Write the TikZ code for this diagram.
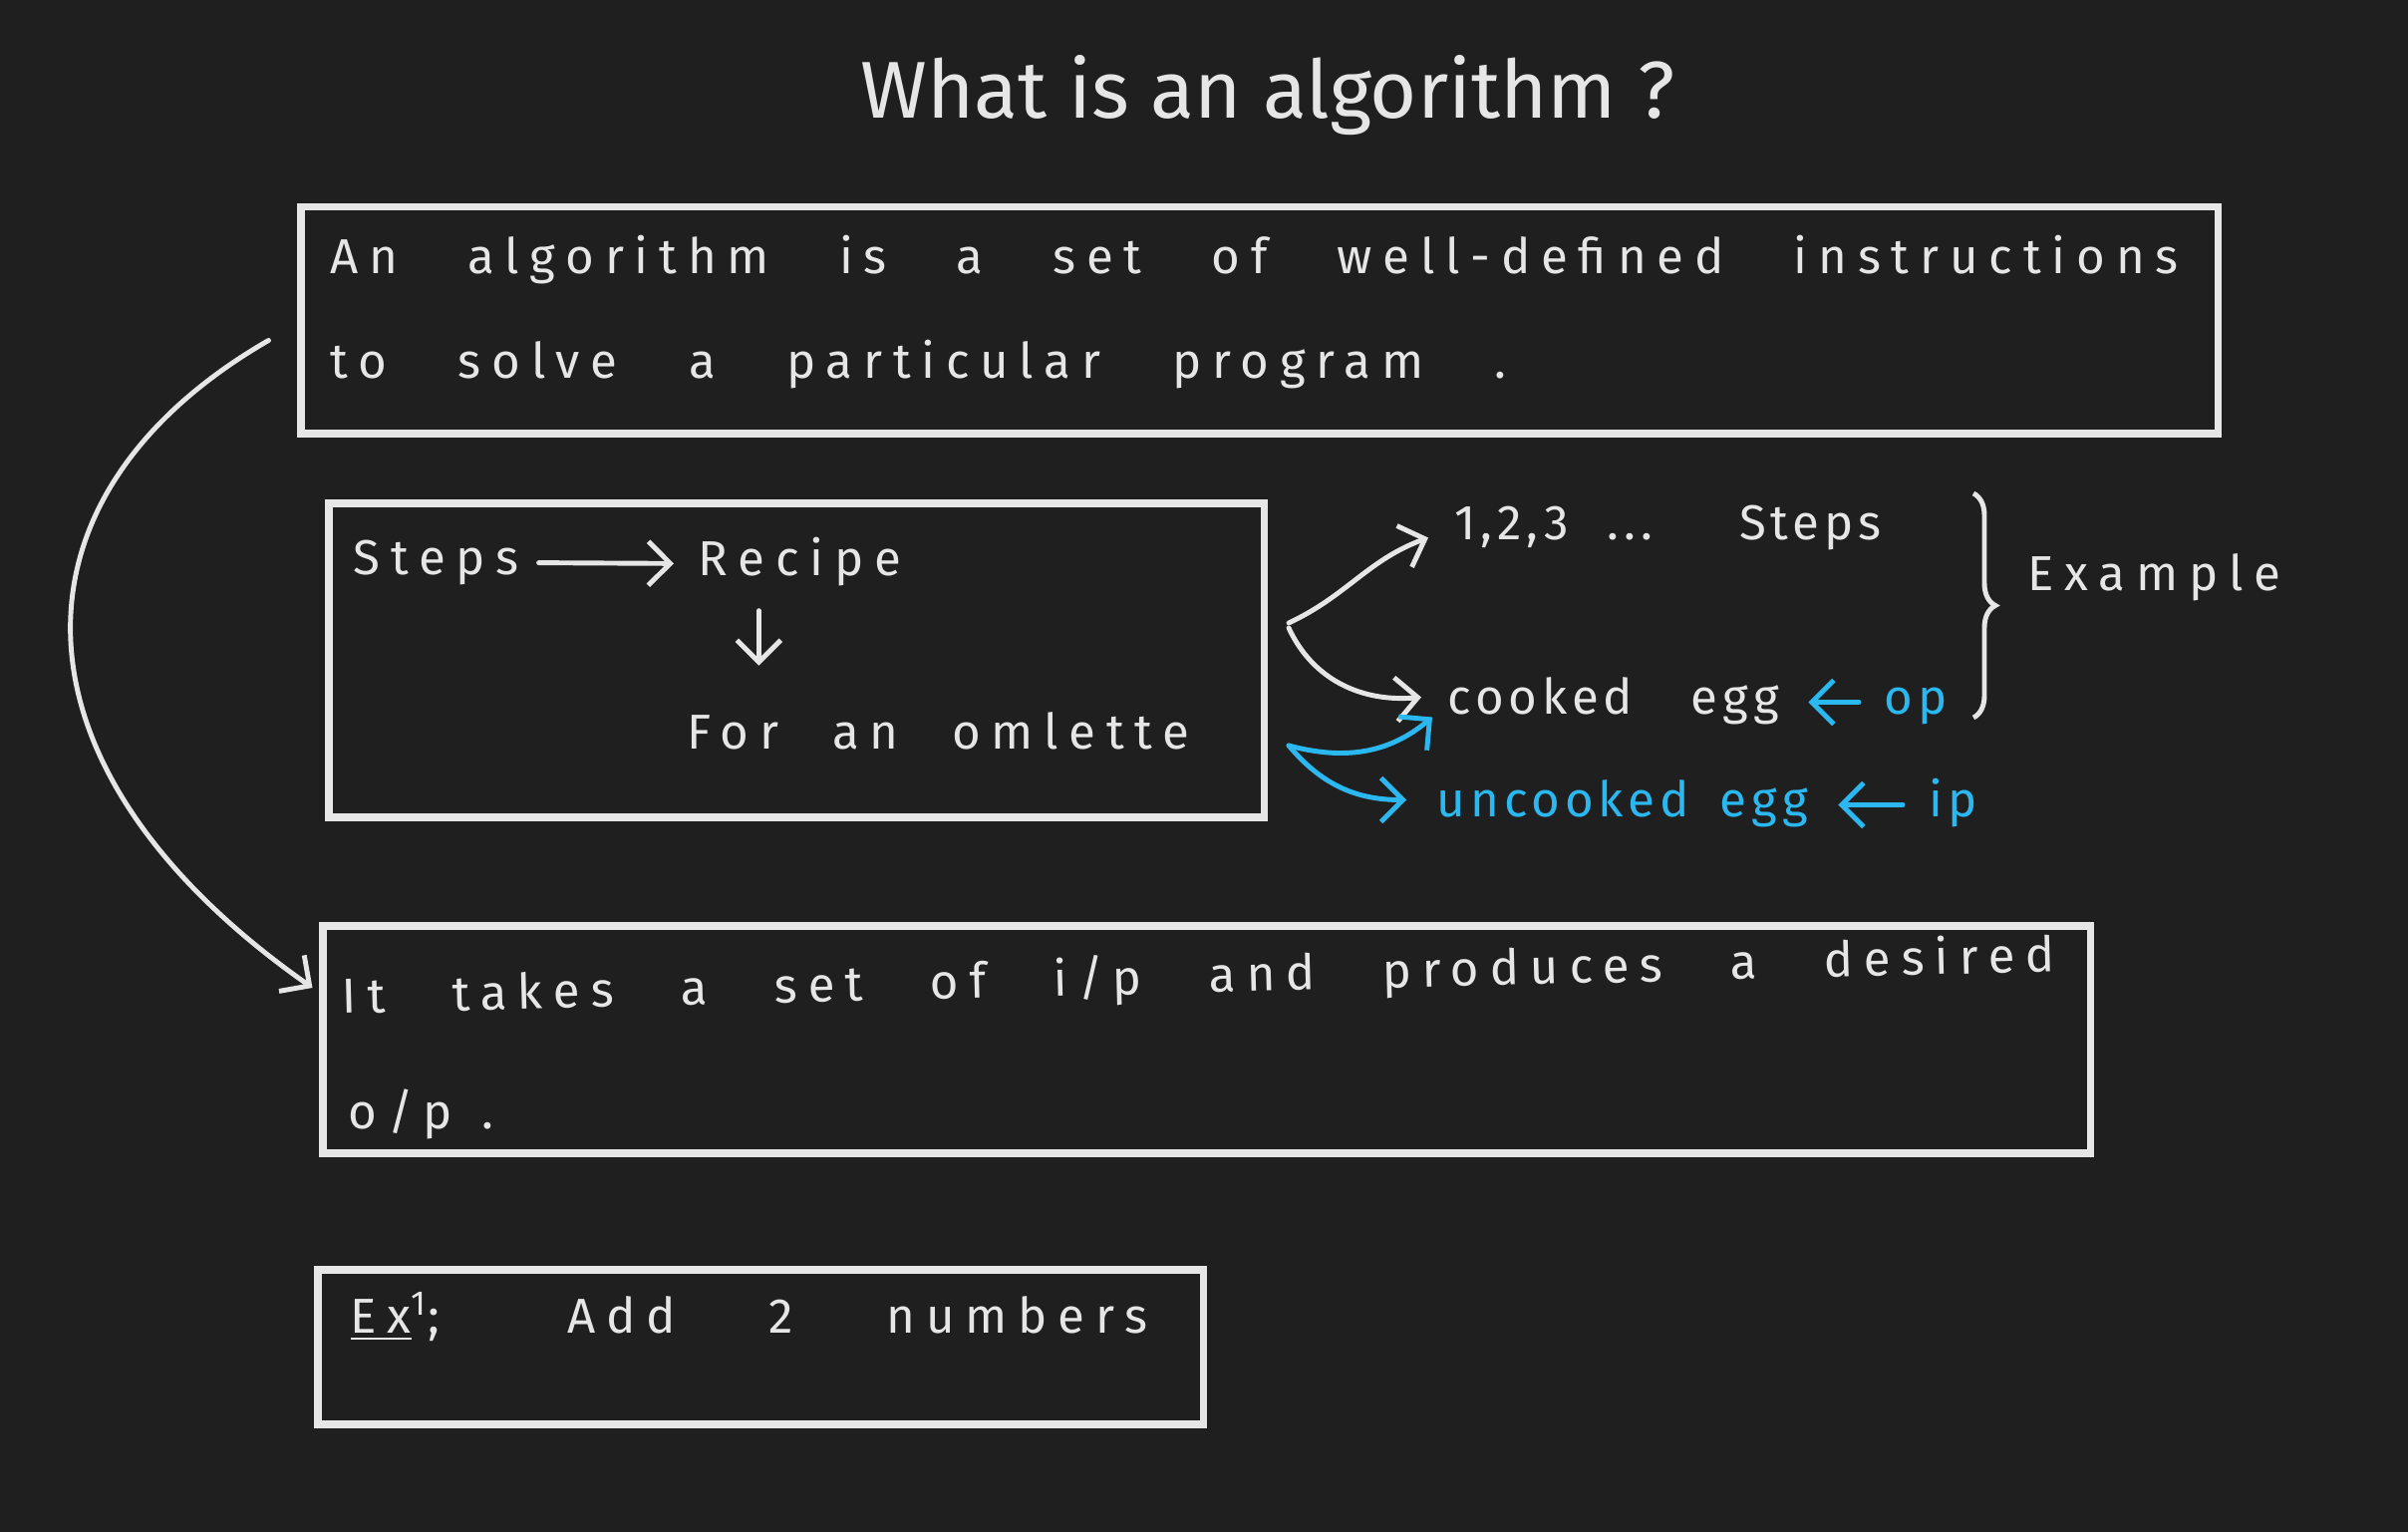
\documentclass[tikz,border=0pt]{standalone}
\usepackage{fontspec}
\setmainfont{Fira Sans}
\newfontfamily\handfont{Fira Sans}[LetterSpace=22]
\newfontfamily\notefont{Fira Sans}[LetterSpace=10]
\usepackage{xcolor}
\usetikzlibrary{positioning,arrows.meta,decorations.pathreplacing,calc}
\definecolor{board}{HTML}{1F1F1F}
\definecolor{chalk}{HTML}{E6E6E6}
\definecolor{sky}{HTML}{2BB8F0}
\newcommand{\spread}[2]{\makebox[#1][s]{#2}}
\tikzset{
  box/.style={draw=chalk, line width=2pt, inner sep=0pt},
  hand/.style={text=chalk, font=\handfont\fontsize{14}{16}\selectfont,
               inner sep=0pt, anchor=base west, text height=0.35cm, text depth=0.1cm},
  note/.style={hand, font=\notefont\fontsize{14}{16}\selectfont},
  bluenote/.style={note, text=sky},
  wire/.style={draw=chalk, line width=1.4pt, line cap=round,
               -{Straight Barb[length=2.2mm,width=4.4mm]}},
  bluewire/.style={wire, draw=sky},
}

\begin{document}
\begin{tikzpicture}
    \useasboundingbox[fill=board] (0,0) rectangle (24.16,-15.37);

    % title
    \node[text=chalk, font=\fontsize{23}{27}\selectfont, anchor=base] (title)
      at (12.72,-1.19) {What is an algorithm ?};

    % boxes
    \node[box, minimum width=19.23cm, minimum height=2.27cm] (def) at (12.635,-3.215) {};
    \node[box, minimum width=9.38cm, minimum height=3.15cm] (recipebox) at (7.99,-6.625) {};
    \node[box, minimum width=17.73cm, minimum height=2.28cm] (io) at (12.105,-10.43) {};
    \node[box, minimum width=8.88cm, minimum height=1.55cm] (exbox) at (7.63,-13.515) {};

    % definition
    \node[hand] (defa) at (3.31,-2.75)
      {\spread{18.54cm}{An algorithm is a set of well-defined instructions}};
    \node[hand] (defb) at (3.31,-3.80) {\spread{11.8cm}{to solve a particular program .}};

    % recipe box
    \node[hand] (steps) at (3.54,-5.77) {Steps};
    \node[hand] (recipe) at (7.00,-5.78) {Recipe};
    \node[hand] (omelette) at (6.89,-7.52) {\spread{5.04cm}{For an omlette}};
    \draw[wire, shorten <=1.9mm, shorten >=2.4mm] (steps.east) -- (recipe.west);
    \draw[wire] ([xshift=-4.1mm,yshift=-2.4mm]recipe.south)
      -- ([xshift=-4.1mm,yshift=-7.9mm]recipe.south);

    % examples
    \coordinate (fork) at (12.93,-6.25);
    \coordinate (bfork) at (12.93,-7.48);
    \node[note] (count) at (14.59,-5.42) {\spread{4.28cm}{1,2,3 ... Steps}};
    \node[note] (cooked) at (14.52,-7.17) {\spread{3.32cm}{cooked egg}};
    \node[bluenote] (op) at (18.90,-7.17) {op};
    \node[bluenote] (raw) at (14.41,-8.20) {\spread{3.72cm}{uncooked egg}};
    \node[bluenote] (ip) at (19.35,-8.20) {ip};
    \node[hand] (example) at (20.34,-5.93) {Example};

    \draw[wire] (fork) to[out=25, in=200] ([xshift=-2.6mm,yshift=-1mm]count.west);
    \draw[wire] ([yshift=-0.5mm]fork) to[out=-65, in=185]
      ([xshift=-2.6mm,yshift=0.5mm]cooked.west);
    \draw[bluewire] (bfork) to[out=-15, in=220] ([xshift=-1.5mm,yshift=-1.5mm]cooked.west);
    \draw[bluewire] (bfork) to[out=-50, in=180] ([xshift=-3mm,yshift=0.5mm]raw.west);
    \draw[bluewire, shorten <=2.5mm, shorten >=2.9mm] (op.west) -- (cooked.east);
    \draw[bluewire, shorten <=2.6mm, shorten >=3mm] (ip.west) -- (raw.east);

    \coordinate (bracetop) at (19.80,-4.95);
    \coordinate (bracebot) at (19.80,-7.20);
    \draw[draw=chalk, line width=1.4pt, decorate, decoration={brace, amplitude=2.2mm}]
      (bracetop) -- (bracebot);

    % input / output
    \node[hand, rotate=1.4] (ioa) at (3.43,-10.17)
      {\spread{17.19cm}{It takes a set of i/p and produces a desired}};
    \node[hand] (iob) at (3.49,-11.33) {\spread{1.46cm}{o/p .}};

    \coordinate (loopstart) at ([xshift=-2.9mm,yshift=-2mm]def.west);
    \draw[wire] (loopstart) .. controls +(210:3.15) and +(145:3.83)
      .. ([xshift=-0.7mm,yshift=5.2mm]io.west);

    % example 1
    \node[hand] (exa) at (3.51,-13.38)
      {\spread{8.0cm}{\underline{Ex}\textsuperscript{1}; Add 2 numbers}};
\end{tikzpicture}
\end{document}
